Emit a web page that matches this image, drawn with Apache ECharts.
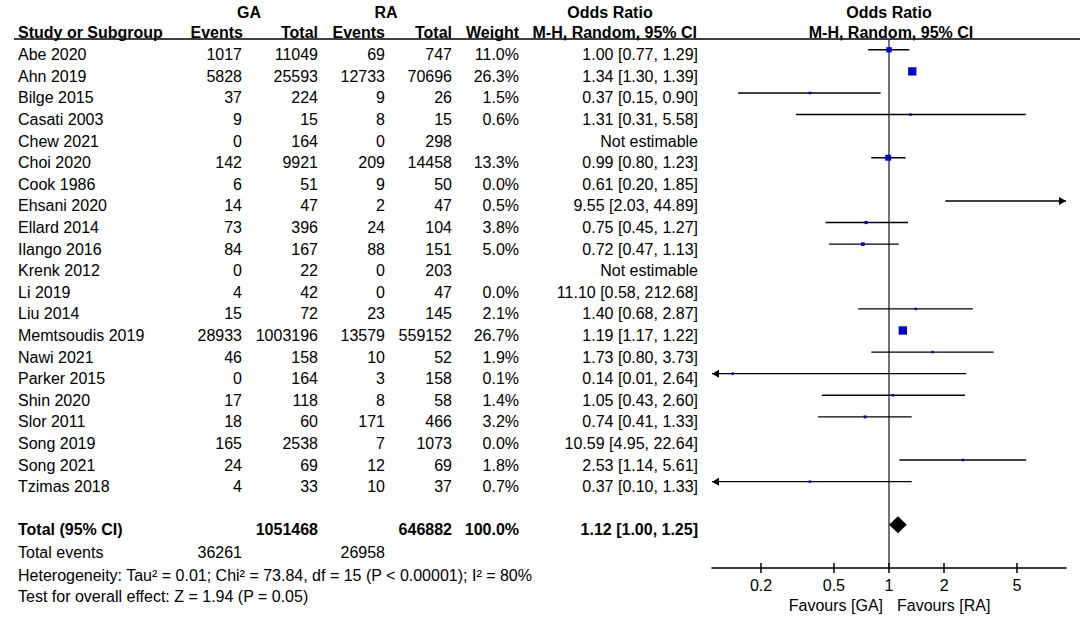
<!DOCTYPE html>
<html lang="en">
<head>
<meta charset="UTF-8">
<title>Forest plot GA vs RA</title>
<script src="https://cdn.jsdelivr.net/npm/echarts@6/dist/echarts.min.js"></script>
<style>
    html, body { margin: 0; padding: 0; background: #fff; }
    #chart { width: 1084px; height: 618px; }
</style>
</head>
<body>
<div id="chart"></div>
<script>
// study rows
var studies = ['Abe 2020', 'Ahn 2019', 'Bilge 2015', 'Casati 2003', 'Chew 2021', 'Choi 2020', 'Cook 1986',
    'Ehsani 2020', 'Ellard 2014', 'Ilango 2016', 'Krenk 2012', 'Li 2019', 'Liu 2014', 'Memtsoudis 2019',
    'Nawi 2021', 'Parker 2015', 'Shin 2020', 'Slor 2011', 'Song 2019', 'Song 2021', 'Tzimas 2018'];
var gaEvents = [1017, 5828, 37, 9, 0, 142, 6, 14, 73, 84, 0, 4, 15, 28933, 46, 0, 17, 18, 165, 24, 4];
var gaTotal = [11049, 25593, 224, 15, 164, 9921, 51, 47, 396, 167, 22, 42, 72, 1003196, 158, 164, 118, 60, 2538, 69, 33];
var raEvents = [69, 12733, 9, 8, 0, 209, 9, 2, 24, 88, 0, 0, 23, 13579, 10, 3, 8, 171, 7, 12, 10];
var raTotal = [747, 70696, 26, 15, 298, 14458, 50, 47, 104, 151, 203, 47, 145, 559152, 52, 158, 58, 466, 1073, 69, 37];
var weights = [11.0, 26.3, 1.5, 0.6, null, 13.3, 0.0, 0.5, 3.8, 5.0, null, 0.0, 2.1, 26.7, 1.9, 0.1, 1.4, 3.2, 0.0, 1.8, 0.7];
var oddsRatio = [1.00, 1.34, 0.37, 1.31, null, 0.99, 0.61, 9.55, 0.75, 0.72, null, 11.10, 1.40, 1.19, 1.73, 0.14, 1.05, 0.74, 10.59, 2.53, 0.37];
var ciLow = [0.77, 1.30, 0.15, 0.31, null, 0.80, 0.20, 2.03, 0.45, 0.47, null, 0.58, 0.68, 1.17, 0.80, 0.01, 0.43, 0.41, 4.95, 1.14, 0.10];
var ciHigh = [1.29, 1.39, 0.90, 5.58, null, 1.23, 1.85, 44.89, 1.27, 1.13, null, 212.68, 2.87, 1.22, 3.73, 2.64, 2.60, 1.33, 22.64, 5.61, 1.33];

// pooled result
var pooled = [1.12, 1.00, 1.25];
var totalGA = 1051468, totalRA = 646882;
var eventsGA = 36261, eventsRA = 26958;
var footnotes = ['Heterogeneity: Tau\u00b2 = 0.01; Chi\u00b2 = 73.84, df = 15 (P < 0.00001); I\u00b2 = 80%',
    'Test for overall effect: Z = 1.94 (P = 0.05)'];

// axis
var tickLabels = [0.2, 0.5, 1, 2, 5];
var axisRange = [0.108, 9.26];

var FONT = 'Liberation Sans';
var log10 = function (v) { return Math.log(v) / Math.LN10; };
var tickPos = tickLabels.map(log10);

function txt(str, x, y, align, bold) {
    return {
        type: 'text',
        style: {
            text: str, x: x, y: y, align: align, verticalAlign: 'middle',
            fontSize: 16, fontFamily: FONT, fontWeight: bold ? 'bold' : 'normal', fill: '#000'
        }
    };
}

function orText(i) {
    if (oddsRatio[i] == null) return 'Not estimable';
    return oddsRatio[i].toFixed(2) + ' [' + ciLow[i].toFixed(2) + ', ' + ciHigh[i].toFixed(2) + ']';
}

// table text for each study row
function renderRow(params, api) {
    var i = params.dataIndex;
    var y = api.coord([0, api.value(1)])[1] + 5;
    return {
        type: 'group',
        children: [
            txt(studies[i], 18, y, 'left'),
            txt(String(gaEvents[i]), 242, y, 'right'),
            txt(String(gaTotal[i]), 318, y, 'right'),
            txt(String(raEvents[i]), 385, y, 'right'),
            txt(String(raTotal[i]), 452, y, 'right'),
            txt(weights[i] == null ? '' : weights[i].toFixed(1) + '%', 519, y, 'right'),
            txt(orText(i), 698, y, 'right')
        ]
    };
}

// totals and footnotes
function renderFooter(params, api) {
    var y = api.coord([0, api.value(1)])[1] + 5;
    var k = params.dataIndex;
    var kids;
    if (k === 0) {
        kids = [
            txt('Total (95% CI)', 18, y, 'left', true),
            txt(String(totalGA), 318, y, 'right', true),
            txt(String(totalRA), 452, y, 'right', true),
            txt('100.0%', 519, y, 'right', true),
            txt(pooled[0].toFixed(2) + ' [' + pooled[1].toFixed(2) + ', ' + pooled[2].toFixed(2) + ']', 698, y, 'right', true)
        ];
    } else if (k === 1) {
        kids = [
            txt('Total events', 18, y, 'left'),
            txt(String(eventsGA), 242, y, 'right'),
            txt(String(eventsRA), 385, y, 'right')
        ];
    } else {
        kids = [txt(footnotes[k - 2], 18, y, 'left')];
    }
    return { type: 'group', children: kids };
}

// CI line, arrows and weight square
function renderStudy(params, api) {
    var cs = params.coordSys;
    var left = cs.x, right = cs.x + cs.width;
    var row = api.value(1);
    var y = api.coord([0, row])[1];
    var px = api.coord([api.value(0), row])[0];
    var xl = api.coord([api.value(2), row])[0];
    var xh = api.coord([api.value(3), row])[0];
    var kids = [];
    var a = Math.max(xl, left), b = Math.min(xh, right);
    kids.push({ type: 'line', shape: { x1: a, y1: y, x2: b, y2: y }, style: { stroke: '#000', lineWidth: 1.4 } });
    if (xl < left) {
        kids.push({ type: 'polygon', shape: { points: [[left, y], [left + 7, y - 4], [left + 7, y + 4]] }, style: { fill: '#000' } });
    }
    if (xh > right) {
        kids.push({ type: 'polygon', shape: { points: [[right, y], [right - 7, y - 4], [right - 7, y + 4]] }, style: { fill: '#000' } });
    }
    if (px >= left && px <= right) {
        var s = Math.max(2.5, 1.62 * Math.sqrt(api.value(4)));
        kids.push({ type: 'rect', shape: { x: px - s / 2, y: y - s / 2, width: s, height: s }, style: { fill: '#0000cd' } });
    }
    return { type: 'group', children: kids };
}

function renderDiamond(params, api) {
    var row = api.value(1);
    var c = api.coord([api.value(0), row]);
    var l = api.coord([api.value(2), row])[0];
    var h = api.coord([api.value(3), row])[0];
    return {
        type: 'polygon',
        shape: { points: [[l, c[1]], [c[0], c[1] - 8.5], [h, c[1]], [c[0], c[1] + 8.5]] },
        style: { fill: '#000' }
    };
}

var studyData = [];
studies.forEach(function (s, i) {
    if (weights[i] != null && weights[i] > 0) {
        studyData.push([log10(oddsRatio[i]), i, log10(ciLow[i]), log10(ciHigh[i]), weights[i]]);
    }
});
var rowData = studies.map(function (s, i) { return [0, i]; });
var footerRows = [[0, 22], [0, 23.05], [0, 24.1], [0, 25.1]];

var chart = echarts.init(document.getElementById('chart'), null, { renderer: 'svg' });

var header = [
    ['GA', 249, 12, 'center'], ['RA', 386, 12, 'center'], ['Odds Ratio', 610, 12, 'center'], ['Odds Ratio', 889, 12, 'center'],
    ['Study or Subgroup', 18, 32, 'left'], ['Events', 243, 32, 'right'], ['Total', 318, 32, 'right'],
    ['Events', 385, 32, 'right'], ['Total', 452, 32, 'right'], ['Weight', 519, 32, 'right'],
    ['M-H, Random, 95% CI', 697, 32, 'right'], ['M-H, Random, 95% CI', 891, 32, 'center']
];
var graphics = header.map(function (h) {
    return {
        type: 'text', x: h[1], y: h[2],
        style: { text: h[0], align: h[3], verticalAlign: 'middle', fontSize: 16, fontFamily: FONT, fontWeight: 'bold', fill: '#000' }
    };
});
graphics.push({ type: 'line', shape: { x1: 14, y1: 39, x2: 1080, y2: 39 }, style: { stroke: '#000', lineWidth: 1.5 } });
graphics.push({ type: 'text', x: 883, y: 605, style: { text: 'Favours [GA]', align: 'right', verticalAlign: 'middle', fontSize: 16, fontFamily: FONT, fill: '#000' } });
graphics.push({ type: 'text', x: 897, y: 605, style: { text: 'Favours [RA]', align: 'left', verticalAlign: 'middle', fontSize: 16, fontFamily: FONT, fill: '#000' } });

var option = {
    animation: false,
    backgroundColor: '#fff',
    grid: { left: 712, top: 39, width: 354, height: 529 },
    xAxis: [
        {
            type: 'value',
            min: log10(axisRange[0]),
            max: log10(axisRange[1]),
            position: 'bottom',
            axisLine: { show: true, onZero: false, lineStyle: { color: '#000', width: 1.5 } },
            axisTick: { show: true, length: 5, customValues: tickPos, lineStyle: { color: '#000', width: 1.5 } },
            axisLabel: {
                show: true, customValues: tickPos, margin: 9,
                fontSize: 16, fontFamily: FONT, color: '#000',
                formatter: function (v) { return String(+Math.pow(10, v).toPrecision(2)); }
            },
            splitLine: { show: false }
        },
        {
            type: 'value',
            min: log10(axisRange[0]),
            max: log10(axisRange[1]),
            position: 'bottom',
            axisLine: { show: false, onZero: false },
            axisTick: { show: true, inside: true, length: 5, customValues: tickPos, lineStyle: { color: '#000', width: 1.5 } },
            axisLabel: { show: false },
            splitLine: { show: false }
        }
    ],
    yAxis: {
        type: 'value',
        inverse: true,
        min: -0.5,
        max: 24,
        axisLine: { show: true, onZero: true, lineStyle: { color: '#444', width: 1.5 } },
        axisTick: { show: false },
        axisLabel: { show: false },
        splitLine: { show: false }
    },
    graphic: graphics,
    series: [
        { type: 'custom', name: 'table', renderItem: renderRow, data: rowData, clip: false, silent: true },
        { type: 'custom', name: 'totals', renderItem: renderFooter, data: footerRows, clip: false, silent: true },
        { type: 'custom', name: 'studies', renderItem: renderStudy, data: studyData, clip: false, silent: true },
        { type: 'custom', name: 'pooled', renderItem: renderDiamond,
          data: [[log10(pooled[0]), 22, log10(pooled[1]), log10(pooled[2])]], clip: false, silent: true }
    ]
};
chart.setOption(option);
</script>
</body>
</html>
